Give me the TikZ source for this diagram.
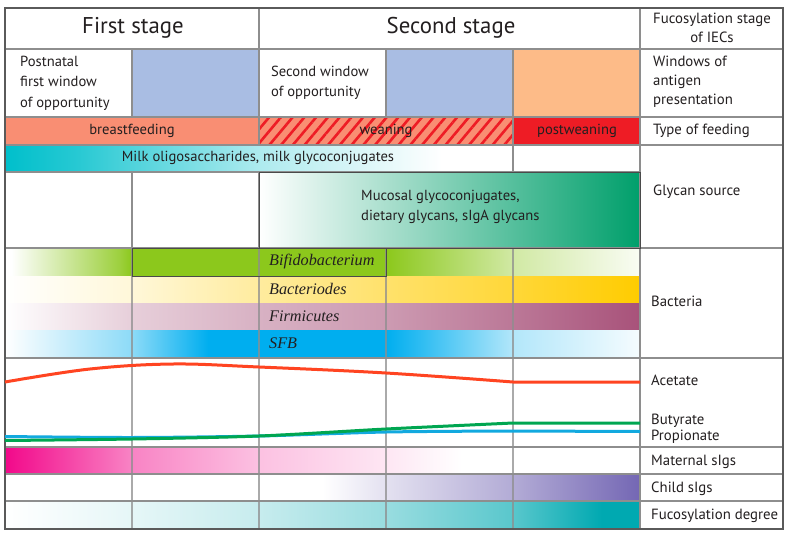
\documentclass[tikz,border=0pt]{standalone}
\usepackage{fontspec}
\setmainfont{PT Sans}
\newfontfamily\bacfont{Liberation Serif}
\usetikzlibrary{patterns.meta}
\definecolor{txtcol}{HTML}{231F20}
\definecolor{gridcol}{HTML}{8E8E8E}
\definecolor{framecol}{HTML}{5A5A5A}
\definecolor{boxcol}{HTML}{4A4A4A}
\definecolor{wincol}{HTML}{A9BDE3}
\definecolor{latecol}{HTML}{FDBB88}
\definecolor{breastcol}{HTML}{F98E73}
\definecolor{postcol}{HTML}{EE1C25}
\definecolor{milkcol}{HTML}{00BFCB}
\definecolor{mucol}{HTML}{009F6B}
\definecolor{bifcol}{HTML}{8CC81C}
\definecolor{bactcol}{HTML}{FFCC00}
\definecolor{firmcol}{HTML}{A8527A}
\definecolor{sfbcol}{HTML}{00AEEF}
\definecolor{matcol}{HTML}{F2088A}
\definecolor{childcol}{HTML}{7467B4}
\definecolor{fuccol}{HTML}{00A9B1}
\definecolor{acetcol}{HTML}{FF4421}
\definecolor{butcol}{HTML}{00A651}
\definecolor{propcol}{HTML}{12A9DF}

% shadings: 25bp = left edge of the band, 75bp = right edge
\pgfdeclarehorizontalshading{milkshade}{100bp}{color(0bp)=(milkcol); color(25bp)=(milkcol); color(32bp)=(milkcol!85); color(50bp)=(milkcol!32); color(68bp)=(white); color(100bp)=(white)}
\pgfdeclarehorizontalshading{bifshade}{100bp}{color(0bp)=(white); color(25.5bp)=(white); color(34bp)=(bifcol!85); color(35bp)=(bifcol); color(55bp)=(bifcol); color(65bp)=(bifcol!40); color(75bp)=(bifcol!5); color(100bp)=(bifcol!5)}
\pgfdeclarehorizontalshading{bactshade}{100bp}{color(0bp)=(white); color(25bp)=(white); color(35bp)=(bactcol!15); color(45bp)=(bactcol!38); color(55bp)=(bactcol!58); color(65bp)=(bactcol!78); color(75bp)=(bactcol); color(100bp)=(bactcol)}
\pgfdeclarehorizontalshading{firmshade}{100bp}{color(0bp)=(white); color(25bp)=(white); color(35bp)=(firmcol!28); color(45bp)=(firmcol!45); color(55bp)=(firmcol!58); color(65bp)=(firmcol!78); color(75bp)=(firmcol); color(100bp)=(firmcol)}
\pgfdeclarehorizontalshading{sfbshade}{100bp}{color(0bp)=(white); color(25bp)=(white); color(35bp)=(sfbcol!45); color(41bp)=(sfbcol); color(55bp)=(sfbcol); color(58bp)=(sfbcol!80); color(65bp)=(sfbcol!30); color(75bp)=(sfbcol!4); color(100bp)=(sfbcol!4)}
\pgfdeclarehorizontalshading{matshade}{100bp}{color(0bp)=(matcol); color(25bp)=(matcol); color(35bp)=(matcol!50); color(45bp)=(matcol!25); color(55bp)=(matcol!10); color(61bp)=(white); color(100bp)=(white)}
\pgfdeclarehorizontalshading{childshade}{100bp}{color(0bp)=(white); color(25bp)=(white); color(50bp)=(white); color(55bp)=(childcol!20); color(65bp)=(childcol!55); color(75bp)=(childcol); color(100bp)=(childcol)}
\pgfdeclarehorizontalshading{fucshade}{100bp}{color(0bp)=(white); color(25bp)=(white); color(35bp)=(fuccol!10); color(45bp)=(fuccol!22); color(55bp)=(fuccol!40); color(65bp)=(fuccol!65); color(72bp)=(fuccol); color(100bp)=(fuccol)}

\begin{document}
\begin{tikzpicture}[
    x=1pt, y=-1pt,
    every node/.style={text=txtcol, inner sep=0pt},
    stagehd/.style={font=\fontsize{22.8}{26}\selectfont},
    rowlbl/.style={anchor=west, align=left, font=\fontsize{14.8}{19}\selectfont},
    celltxt/.style={font=\fontsize{14.6}{20.5}\selectfont},
    bactxt/.style={anchor=west, font=\bacfont\itshape\fontsize{16.2}{18}\selectfont},
    gridln/.style={draw=gridcol, line width=1.1pt},
    softln/.style={draw=gridcol, line width=1.1pt, opacity=0.75},
    frameln/.style={draw=framecol, line width=1.2pt},
    boxln/.style={draw=boxcol, line width=0.8pt},
    scfa/.style={line width=3pt, line join=round},
]
\useasboundingbox (0,0) rectangle (788,536);
\fill[white] (0,0) rectangle (788,536);

% === Windows of antigen presentation ===
\fill[wincol] (132,49) rectangle (259,117);
\fill[wincol] (386,49) rectangle (513,117);
\fill[latecol] (513,49) rectangle (640,117);

% === Type of feeding ===
\fill[breastcol] (5,117) rectangle (259,145);
\fill[breastcol] (259,117) rectangle (513,145);
\fill[pattern={Lines[angle=50, distance=9pt, line width=2.6pt]}, pattern color=postcol]
    (259,117) rectangle (513,145);
\fill[postcol] (513,117) rectangle (640,145);

% === Glycan source ===
\shade[shading=milkshade] (5,145) rectangle (513,172);
\shade[left color=white, right color=mucol] (259,172) rectangle (640,248);

% === Bacteria ===
\shade[shading=bifshade] (5,248) rectangle (640,276);
\shade[shading=bactshade] (5,276) rectangle (640,303);
\shade[shading=firmshade] (5,303) rectangle (640,330);
\shade[shading=sfbshade] (5,330) rectangle (640,358);

% === sIgs and fucosylation ===
\shade[shading=matshade] (5,447) rectangle (640,474);
\shade[shading=childshade] (5,474) rectangle (640,501);
\shade[shading=fucshade] (5,501) rectangle (640,529);

% === Grid ===
\foreach \yy in {49,117,145,248,358,447,474,501}
    \draw[gridln] (5,\yy) -- (783,\yy);
\draw[gridln] (5,172) -- (640,172);
\draw[gridln] (640,8) -- (640,529);
\draw[gridln] (259,8) -- (259,49);
\foreach \xx in {132,259,386,513}
    \draw[gridln] (\xx,49) -- (\xx,117);
\draw[gridln] (259,117) -- (259,145);
\draw[gridln] (513,117) -- (513,172);
\draw[gridln] (132,172) -- (132,248);
\draw[gridln] (259,172) -- (259,248);
\foreach \xx in {132,259,386,513}
    \draw[softln] (\xx,248) -- (\xx,529);
\draw[boxln] (259,172) rectangle (640,248);
\draw[boxln] (132,248) rectangle (386,276);
\draw[frameln] (5,8) rectangle (783,529);

% === Short-chain fatty acids ===
\draw[scfa, draw=propcol] plot[smooth, tension=0.5]
    coordinates {(5,436.5) (132,437.5) (259,436) (386,432) (513,431)} -- (640,431.5);
\draw[scfa, draw=butcol] plot[smooth, tension=0.5]
    coordinates {(5,440.5) (132,439) (259,436) (386,429) (513,423)} -- (640,423);
\draw[scfa, draw=acetcol] plot[smooth, tension=0.6]
    coordinates {(5,382) (90,369) (173,364) (259,367) (386,373) (513,382)} -- (640,382);

% === Header ===
\node[stagehd] (hdfirst) at (133,28) {First stage};
\node[stagehd] (hdsecond) at (451,28) {Second stage};
\node[align=center, font=\fontsize{14.8}{19}\selectfont] (hdfuc) at (712,28)
    {Fucosylation stage\\of IECs};

% === Cell texts ===
\node[celltxt, anchor=west, align=left] (winpost) at (20,83)
    {Postnatal\\first window\\of opportunity};
\node[celltxt, anchor=west, align=left] (winsecond) at (271,83)
    {Second window\\of opportunity};
\node[celltxt] (feedbreast) at (132,131) {breastfeeding};
\node[celltxt] (feedwean) at (386,131) {weaning};
\node[celltxt] (feedpost) at (577,131) {postweaning};
\node[celltxt] (milk) at (258,158) {Milk oligosaccharides, milk glycoconjugates};
\node[celltxt, anchor=west, align=left, font=\fontsize{14.6}{19.5}\selectfont] (mucosal) at (361,207)
    {Mucosal glycoconjugates,\\dietary glycans, sIgA glycans};
\node[bactxt] (bifido) at (269,262) {Bifidobacterium};
\node[bactxt] (bactero) at (269,289) {Bacteriodes};
\node[bactxt] (firmi) at (269,316) {Firmicutes};
\node[bactxt] (sfb) at (269,343) {SFB};

% === Row labels ===
\node[rowlbl] (winlabel) at (653,82) {Windows of\\antigen\\presentation};
\node[rowlbl] (feedlabel) at (653,131) {Type of feeding};
\node[rowlbl] (glycanlabel) at (653,192) {Glycan source};
\node[rowlbl] (bactlabel) at (651,301) {Bacteria};
\node[rowlbl] (acetate) at (651,380) {Acetate};
\node[rowlbl] (butyrate) at (651,421) {Butyrate};
\node[rowlbl] (propionate) at (651,437) {Propionate};
\node[rowlbl] (matlabel) at (651,462) {Maternal sIgs};
\node[rowlbl] (childlabel) at (651,489) {Child sIgs};
\node[rowlbl] (fuclabel) at (651,516) {Fucosylation degree};
\end{tikzpicture}
\end{document}
